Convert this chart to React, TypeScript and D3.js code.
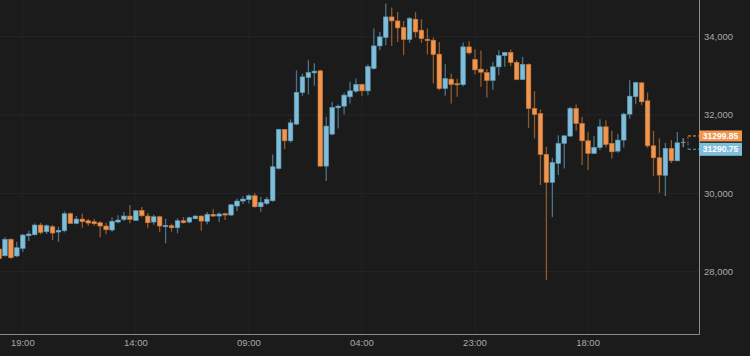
import React from "react";
import * as d3 from "d3";

const opens = [
  28579, 28408, 28827, 28401, 28597, 28918, 28944, 29191, 29020, 29148,
  29013, 29046, 29480, 29235, 29344, 29301, 29276, 29250, 29166, 29064,
  29268, 29337, 29421, 29311, 29566, 29421, 29268, 29403, 29148, 29173,
  29122, 29301, 29268, 29352, 29421, 29286, 29464, 29421, 29480, 29446,
  29676, 29804, 29842, 29939, 29658, 29745, 29811, 30638, 31633, 31342,
  31768, 32577, 32959, 33076, 33128, 30696, 31513, 32184, 32227, 32464,
  32610, 32781, 32617, 33189, 33765, 33980, 34505, 34403, 34235, 33929,
  34446, 34166, 33936, 33911, 33554, 32679, 32916, 32801, 32776, 33740,
  33418, 33171, 33082, 32883, 33230, 33515, 33597, 33342, 32908, 33291,
  32168, 32036, 30995, 30281, 30765, 31276, 31462, 32168, 31786, 31342,
  31020, 31173, 31699, 31276, 31079, 31360, 32023, 32469, 32821, 32362,
  31214, 30908, 30460, 31148, 30832, 31299.85,
];
const highs = [
  28630, 28878, 28860, 28765, 28962, 29046, 29230, 29250, 29209, 29191,
  29148, 29541, 29515, 29421, 29480, 29352, 29352, 29286, 29250, 29388,
  29439, 29523, 29702, 29566, 29651, 29497, 29454, 29429, 29352, 29224,
  29362, 29395, 29403, 29439, 29439, 29523, 29592, 29515, 29505, 29719,
  29872, 29931, 29975, 30008, 29906, 29913, 30995, 31650, 31640, 31888,
  33145, 33061, 33400, 33324, 33158, 31954, 32337, 32270, 32566, 32847,
  32934, 32806, 33291, 34209, 34122, 34847, 34745, 34633, 34403, 34505,
  34633, 34446, 34209, 33980, 33867, 33298, 33061, 32929, 33852, 33885,
  33681, 33648, 33166, 33357, 33656, 33612, 33673, 33400, 33485, 33316,
  32610, 32143, 31189, 30908, 31487, 31487, 32209, 32270, 31954, 31571,
  31462, 31895, 31870, 31597, 31513, 32056, 32890, 32847, 32847, 32577,
  31597, 31403, 31291, 31360, 31564, 31410,
];
const lows = [
  28298, 28383, 28324, 28367, 28510, 28783, 28923, 28954, 28962, 28809,
  28765, 29005, 29217, 29209, 29122, 29166, 29173, 28878, 28954, 29020,
  29235, 29286, 29235, 29293, 29388, 29107, 29199, 29013, 28724, 29020,
  28980, 29230, 29235, 29337, 29046, 29209, 29395, 29268, 29319, 29429,
  29541, 29727, 29740, 29633, 29531, 29702, 29786, 30612, 31130, 31291,
  31742, 32490, 32525, 32745, 30680, 30314, 31487, 31658, 32023, 32296,
  32566, 32482, 32508, 33163, 33656, 33783, 33765, 33867, 33528, 33842,
  33980, 33842, 33546, 32806, 32635, 32490, 32296, 32464, 32730, 33546,
  33043, 32719, 32449, 32643, 33018, 33230, 33255, 32890, 32900, 31673,
  31403, 30212, 27788, 29395, 30467, 30638, 31445, 31597, 30722, 30594,
  31003, 31105, 31173, 30893, 31036, 31173, 31913, 32278, 32253, 31163,
  30441, 30015, 29931, 30773, 30820, 31180,
];
const closes = [
  28332, 28827, 28357, 28612, 28936, 28962, 29191, 29005, 29173, 28987,
  29056, 29480, 29235, 29344, 29276, 29242, 29224, 29166, 29071, 29286,
  29319, 29421, 29337, 29556, 29429, 29250, 29403, 29166, 29184, 29122,
  29301, 29250, 29378, 29421, 29293, 29464, 29421, 29472, 29446, 29709,
  29804, 29855, 29939, 29658, 29770, 29847, 30679, 31633, 31342, 31801,
  32577, 32974, 33082, 33120, 30696, 31717, 32194, 32227, 32508, 32617,
  32781, 32617, 33235, 33765, 33995, 34505, 34403, 34225, 33929, 34464,
  34122, 33954, 33903, 33546, 32673, 32929, 32781, 32770, 33740, 33587,
  33153, 33094, 32883, 33230, 33515, 33597, 33342, 32908, 33291, 32168,
  32015, 30995, 30281, 30786, 31276, 31469, 32168, 31786, 31342, 31020,
  31173, 31699, 31250, 31061, 31360, 32023, 32482, 32827, 32337, 31214,
  30908, 30467, 31148, 30832, 31290.75, 31299.85,
];

const xTickLabels = ["19:00", "14:00", "09:00", "04:00", "23:00", "18:00"];
const xTickIndex = [4, 23, 42, 61, 80, 99];
const yTicks = [28000, 30000, 32000, 34000];
const askPrice = 31299.85;
const bidPrice = 31290.75;

const BG = "#1b1b1b";
const BLUE = "#7fbedb";
const BLUE_STROKE = "#5e9cb8";
const BLUE_WICK = "#4a7387";
const ORANGE = "#f0964f";
const ORANGE_STROKE = "#c8763a";
const ORANGE_WICK = "#8e5a30";
const NEUTRAL = "#7f919a";
const FONT = "'Liberation Sans', Arial, Helvetica, sans-serif";

export default function App() {
  const W = 750;
  const H = 356;
  const plotR = 699;
  const plotB = 334;
  const x = d3.scaleLinear().domain([0, 114]).range([-1, 677.3]);
  const y = d3.scaleLinear().domain([28000, 34000]).range([271.7, 36.7]);
  const bw = 4.6;
  const fmt = d3.format(",");

  const candles = opens.map((o, i) => ({
    i,
    o,
    h: highs[i],
    l: lows[i],
    c: closes[i],
  }));

  const askY = y(askPrice) - 6.5;
  const bidY = y(bidPrice) + 6.5;
  const dashX = 688;

  return (
    <svg
      width={W}
      height={H}
      style={{ position: "absolute", left: 0, top: 0, display: "block" }}
    >
      <defs>
        <clipPath id="plotclip">
          <rect x={0} y={0} width={plotR} height={plotB} />
        </clipPath>
      </defs>
      <rect x={0} y={0} width={W} height={H} fill={BG} />

      {/* grid */}
      {yTicks.map((t) => (
        <line
          key={"gy" + t}
          x1={0}
          x2={plotR}
          y1={y(t)}
          y2={y(t)}
          stroke="#262626"
          strokeWidth={1}
        />
      ))}
      {xTickIndex.map((ti) => (
        <line
          key={"gx" + ti}
          x1={x(ti)}
          x2={x(ti)}
          y1={0}
          y2={plotB}
          stroke="#222222"
          strokeWidth={1}
        />
      ))}

      {/* candles */}
      <g clipPath="url(#plotclip)">
        {candles.map((d) => {
          const neutral = d.o === d.c;
          const up = d.c > d.o;
          const cx = x(d.i);
          const top = y(Math.max(d.o, d.c));
          const bot = y(Math.min(d.o, d.c));
          const bh = Math.max(bot - top, 1.2);
          const fill = neutral ? NEUTRAL : up ? BLUE : ORANGE;
          const stroke = neutral ? NEUTRAL : up ? BLUE_STROKE : ORANGE_STROKE;
          const wick = neutral ? NEUTRAL : up ? BLUE_WICK : ORANGE_WICK;
          return (
            <g key={d.i}>
              <line
                x1={cx}
                x2={cx}
                y1={y(d.h)}
                y2={y(d.l)}
                stroke={wick}
                strokeWidth={1.3}
              />
              {neutral ? (
                <line
                  x1={cx - bw / 2}
                  x2={cx + bw / 2}
                  y1={top}
                  y2={top}
                  stroke={wick}
                  strokeWidth={1}
                />
              ) : (
                <rect
                  x={cx - bw / 2}
                  y={top}
                  width={bw}
                  height={bh}
                  fill={fill}
                  stroke={stroke}
                  strokeWidth={0.6}
                />
              )}
            </g>
          );
        })}
      </g>

      {/* dashed price connectors */}
      <line
        x1={dashX}
        x2={plotR}
        y1={askY}
        y2={askY}
        stroke={ORANGE}
        strokeWidth={1}
        strokeDasharray="3,2"
      />
      <line
        x1={dashX}
        x2={dashX}
        y1={askY}
        y2={(askY + bidY) / 2}
        stroke={ORANGE_WICK}
        strokeWidth={1}
        strokeDasharray="3,2"
      />
      <line
        x1={dashX}
        x2={dashX}
        y1={(askY + bidY) / 2}
        y2={bidY}
        stroke={BLUE_WICK}
        strokeWidth={1}
        strokeDasharray="3,2"
      />
      <line
        x1={dashX}
        x2={plotR}
        y1={bidY}
        y2={bidY}
        stroke={BLUE_STROKE}
        strokeWidth={1}
        strokeDasharray="3,2"
      />

      {/* borders */}
      <line x1={plotR + 0.5} x2={plotR + 0.5} y1={0} y2={plotB + 0.5} stroke="#8a8a8a" strokeWidth={1} />
      <line x1={0} x2={plotR + 0.5} y1={plotB + 0.5} y2={plotB + 0.5} stroke="#8a8a8a" strokeWidth={1} />

      {/* y axis labels */}
      {yTicks.map((t) => (
        <text
          key={"yl" + t}
          x={704}
          y={y(t)}
          dy="0.35em"
          fill="#a9a9a9"
          fontSize={9.5}
          fontFamily={FONT}
        >
          {fmt(t)}
        </text>
      ))}

      {/* x axis labels */}
      {xTickIndex.map((ti, k) => (
        <text
          key={"xl" + ti}
          x={x(ti)}
          y={346}
          textAnchor="middle"
          fill="#a9a9a9"
          fontSize={9.5}
          fontFamily={FONT}
        >
          {xTickLabels[k]}
        </text>
      ))}

      {/* price labels */}
      <rect x={plotR} y={askY - 5.5} width={43} height={11} fill={ORANGE} />
      <text
        x={plotR + 21.5}
        y={askY}
        dy="0.35em"
        textAnchor="middle"
        fill="#ffffff"
        fontSize={8.5}
        fontWeight="bold"
        fontFamily={FONT}
      >
        {askPrice.toFixed(2)}
      </text>
      <rect x={plotR} y={bidY - 6.5} width={43} height={13} fill={BLUE} />
      <text
        x={plotR + 21.5}
        y={bidY}
        dy="0.35em"
        textAnchor="middle"
        fill="#ffffff"
        fontSize={8.5}
        fontWeight="bold"
        fontFamily={FONT}
      >
        {bidPrice.toFixed(2)}
      </text>
    </svg>
  );
}
